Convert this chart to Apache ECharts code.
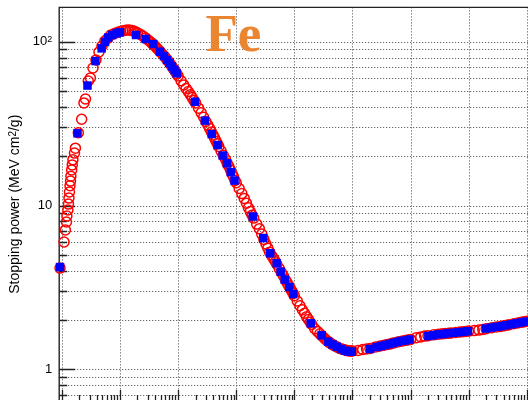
<!DOCTYPE html>
<html>
<head>
<meta charset="utf-8">
<script src="https://cdn.jsdelivr.net/npm/echarts@6/dist/echarts.min.js"></script>
<style>
  html, body { margin: 0; padding: 0; background: #fff; }
  #chart { width: 528px; height: 400px; }
</style>
</head>
<body>
<div id="chart"></div>
<script>
// Stopping power of Fe versus energy (MeV): reference table (open red circles)
const redEnergy = [
  0.00093, 0.00109, 0.00115, 0.0012, 0.00122, 0.00127, 0.0013, 0.001325, 0.00135, 0.00138,
  0.00141, 0.00143, 0.001475, 0.00151, 0.00155, 0.00165, 0.00171, 0.00192, 0.00219, 0.0024,
  0.00255, 0.00285, 0.0031, 0.00343, 0.00386, 0.00435, 0.0049, 0.0055, 0.0062, 0.007, 0.0079, 0.0089,
  0.01, 0.0125, 0.015, 0.0175, 0.02, 0.025, 0.03, 0.035, 0.04, 0.045, 0.05, 0.06, 0.07, 0.08, 0.09,
  0.1, 0.125, 0.15, 0.175, 0.2, 0.25, 0.3, 0.35, 0.4, 0.45, 0.5, 0.6, 0.7, 0.8, 0.9,
  1, 1.25, 1.5, 1.75, 2, 2.5, 3, 3.5, 4, 4.5, 5, 6, 7, 8, 9,
  10, 12.5, 15, 17.5, 20, 25, 30, 35, 40, 45, 50, 60, 70, 80, 90,
  100, 125, 150, 175, 200, 250, 300, 350, 400, 450, 500, 600, 700, 800, 900,
  1000, 1250, 1500, 1750, 2000, 2500, 3000, 3500, 4000, 4500, 5000, 6000, 7000, 8000, 9000,
  10000, 12500, 15000, 17500, 20000, 25000, 30000, 35000, 40000, 45000, 50000, 60000, 70000, 80000, 90000,
  100000, 125000,
  // intermediate entries
  0.01125, 0.01375, 0.01625, 0.01875, 0.0225, 0.0275, 0.0325, 0.0375, 0.0425, 0.0475, 0.055, 0.065, 0.075, 0.085, 0.095,
  0.1125, 0.1375, 0.1625, 0.1875, 0.225, 0.275, 0.325, 0.375, 0.425, 0.475, 0.55, 0.65, 0.75, 0.85, 0.95,
  1.125, 1.375, 1.625, 1.875, 2.25, 2.75, 3.25, 3.75, 4.25, 4.75, 5.5, 6.5, 7.5, 8.5, 9.5,
  11.25, 13.75, 16.25, 18.75, 22.5, 27.5, 32.5, 37.5, 42.5, 47.5, 55, 65, 75, 85, 95
];
const redStopping = [
  4.15, 5.99, 7.09, 7.93, 8.63, 9.39, 10.2, 11.1, 12.1, 13.2,
  14.1, 15.1, 16.5, 17.7, 19.0, 20.9, 22.4, 27.8, 33.6, 42.3,
  44.7, 57.6, 60.0, 69.1, 77.3, 86.5, 94.1, 101, 105, 110, 112, 114,
  115.4, 117.4, 117.6, 115.7, 113.3, 108.1, 102.8, 98.3, 94.1, 89.9, 86.3, 80.3, 74.8, 69.8, 65.7,
  61.8, 54.5, 49.6, 45.6, 42.3, 36.8, 32.6, 29.5, 26.9, 24.7, 22.95, 20.25, 18.07, 16.4, 14.95,
  13.76, 11.82, 10.34, 9.18, 8.38, 7.22, 6.21, 5.49, 4.99, 4.67, 4.38, 3.9, 3.53, 3.24, 3.01,
  2.814, 2.442, 2.2, 2.017, 1.877, 1.704, 1.597, 1.516, 1.459, 1.419, 1.39, 1.345, 1.321, 1.304, 1.293,
  1.293, 1.304, 1.321, 1.332, 1.34, 1.37, 1.388, 1.403, 1.417, 1.429, 1.445, 1.468, 1.484, 1.499, 1.512,
  1.522, 1.557, 1.577, 1.595, 1.604, 1.624, 1.638, 1.647, 1.654, 1.661, 1.668, 1.68, 1.689, 1.696, 1.704,
  1.711, 1.723, 1.735, 1.75, 1.767, 1.795, 1.815, 1.825, 1.843, 1.858, 1.872, 1.898, 1.917, 1.936, 1.952,
  1.966, 1.983,
  116.6, 117.9, 116.9, 114.6, 110.8, 105.5, 100.6, 96.0, 91.9, 88.1, 83.2, 77.5, 72.4, 67.7, 63.6,
  57.7, 51.8, 47.5, 43.8, 39.3, 34.6, 31.0, 28.1, 25.8, 23.8, 21.5, 19.2, 17.3, 15.6, 14.25,
  12.7, 11.05, 9.69, 8.73, 7.7, 6.69, 5.82, 5.19, 4.83, 4.53, 4.12, 3.71, 3.38, 3.12, 2.91,
  2.608, 2.311, 2.097, 1.936, 1.769, 1.647, 1.553, 1.484, 1.437, 1.403, 1.364, 1.332, 1.311, 1.299, 1.293
];

// Calculated values (filled blue squares)
const blueEnergy = [
  0.00093, 0.00186, 0.00276, 0.00379, 0.00484, 0.00552, 0.00629, 0.00737, 0.00877, 0.01,
  0.0189, 0.0277, 0.0374, 0.0488, 0.0572, 0.0644, 0.0711, 0.0785, 0.0867, 0.0946,
  0.195, 0.29, 0.379, 0.479, 0.586, 0.694, 0.807, 0.935,
  1.93, 2.93, 3.86, 4.98, 5.83, 6.84, 8.17, 9.61,
  19.2, 29.6, 38.5, 45.4, 53.7, 63.7, 74.6, 85.7, 97.3,
  201, 262, 311, 364, 427, 500, 586, 686, 804, 961,
  2025, 2439, 3009, 3626, 4420, 5390, 6569, 8010, 9765,
  19930, 24290, 30210, 36110, 44020, 53690, 65430, 79780, 97270
];
const blueStopping = [
  4.21, 27.6, 54.0, 76.2, 91.1, 99.6, 106.1, 109.9, 112.5, 114.1,
  109.9, 103.9, 96.8, 86.9, 81.8, 77.3, 74.1, 70.6, 67.2, 64.1,
  43.0, 33.0, 27.3, 23.4, 20.2, 18.1, 16.0, 14.2,
  8.57, 6.33, 5.11, 4.44, 3.94, 3.53, 3.18, 2.88,
  1.909, 1.613, 1.474, 1.417, 1.374, 1.33, 1.299, 1.284, 1.281,
  1.33, 1.368, 1.388, 1.407, 1.427, 1.447, 1.468, 1.488, 1.499, 1.52,
  1.597, 1.613, 1.636, 1.643, 1.659, 1.671, 1.682, 1.694, 1.708,
  1.774, 1.797, 1.817, 1.833, 1.858, 1.882, 1.906, 1.933, 1.955
];

// Axis ranges and tick values
const xRange = [0.0009, 150000];
const yRange = [0.64, 162];
const xDecades = [0.001, 0.01, 0.1, 1, 10, 100, 1000, 10000, 100000];
const yDecades = [1, 10, 100];
const minorSteps = [2, 3, 4, 5, 6, 7, 8, 9];
const yMinorTicks = [0.7, 0.8, 0.9, 2, 3, 4, 5, 6, 7, 8, 9, 20, 30, 40, 50, 60, 70, 80, 90];

const xMinorTicks = [];
xDecades.forEach(d => minorSteps.forEach(k => {
  const v = d * k;
  if (v > xRange[0] && v < xRange[1]) xMinorTicks.push(v);
}));

const pairs = (xs, ys) => xs.map((x, i) => [x, ys[i]]);

const gridColor = '#444';
const frameColor = '#222';

function hGrid(params, api) {
  const cs = params.coordSys;
  const y = Math.round(api.coord([api.value(0), api.value(1)])[1]) + 0.5;
  return { type: 'line', silent: true,
    shape: { x1: cs.x, y1: y, x2: cs.x + cs.width, y2: y },
    style: { stroke: gridColor, lineWidth: 1, lineDash: [1, 2] } };
}
function vGrid(params, api) {
  const cs = params.coordSys;
  const x = Math.round(api.coord([api.value(0), api.value(1)])[0]) + 0.5;
  return { type: 'line', silent: true,
    shape: { x1: x, y1: cs.y, x2: x, y2: cs.y + cs.height },
    style: { stroke: gridColor, lineWidth: 1, lineDash: [1, 2] } };
}
function yTick(params, api) {
  const cs = params.coordSys;
  const y = Math.round(api.coord([api.value(0), api.value(1)])[1]) + 0.5;
  const len = api.value(2);
  return { type: 'line', silent: true,
    shape: { x1: cs.x, y1: y, x2: cs.x + len, y2: y },
    style: { stroke: frameColor, lineWidth: 1.3 } };
}
function xTick(params, api) {
  const cs = params.coordSys;
  const x = Math.round(api.coord([api.value(0), api.value(1)])[0]) + 0.5;
  const len = api.value(2);
  const yb = cs.y + cs.height;
  return { type: 'line', silent: true,
    shape: { x1: x, y1: yb, x2: x, y2: yb - len },
    style: { stroke: frameColor, lineWidth: 1.3 } };
}

const gridSeries = (name, data, fn) => ({
  name, type: 'custom', renderItem: fn, data, z: 1, silent: true, clip: true,
  animation: false, tooltip: { show: false }
});

const chart = echarts.init(document.getElementById('chart'), null, { renderer: 'canvas' });

chart.setOption({
  animation: false,
  backgroundColor: '#ffffff',
  grid: {
    left: 59.2, top: 7.4, width: 477.8, height: 393.65,
    outerBoundsMode: 'none', containLabel: false,
    show: true, borderColor: frameColor, borderWidth: 1.4, backgroundColor: 'transparent'
  },
  xAxis: {
    type: 'log', logBase: 10, min: xRange[0], max: xRange[1],
    axisLine: { show: false }, axisTick: { show: false },
    axisLabel: { show: false }, splitLine: { show: false }
  },
  yAxis: {
    type: 'log', logBase: 10, min: yRange[0], max: yRange[1],
    name: 'Stopping power (MeV cm{sup|2}/g)',
    nameLocation: 'middle', nameRotate: 90, nameGap: 35,
    nameTextStyle: {
      fontFamily: '"Liberation Sans", Arial, sans-serif', fontSize: 14, color: '#000',
      rich: { sup: { fontSize: 10, verticalAlign: 'top', lineHeight: 10,
        fontFamily: '"Liberation Sans", Arial, sans-serif', color: '#000' } }
    },
    axisLine: { show: false }, axisTick: { show: false }, splitLine: { show: false },
    axisLabel: {
      margin: 7, fontFamily: '"Liberation Sans", Arial, sans-serif', fontSize: 13, color: '#000',
      formatter: v => {
        const e = Math.round(Math.log10(v));
        if (Math.abs(Math.log10(v) - e) > 1e-6) return '';
        if (e === 0) return '1';
        if (e === 1) return '10';
        return '10{sup|' + e + '}';
      },
      rich: { sup: { fontSize: 9, verticalAlign: 'top', lineHeight: 9,
        fontFamily: '"Liberation Sans", Arial, sans-serif', color: '#000' } }
    }
  },
  graphic: [{
    type: 'text', x: 205.5, y: 37, z: 10,
    style: {
      text: 'Fe', fill: '#ea8532', verticalAlign: 'middle',
      font: 'bold 53px "Liberation Serif", "Times New Roman", serif'
    }
  }],
  series: [
    gridSeries('hgrid', yDecades.concat(yMinorTicks).map(v => [xRange[0], v]), hGrid),
    gridSeries('vgrid', xDecades.map(v => [v, yRange[0]]), vGrid),
    gridSeries('yticks', yDecades.map(v => [xRange[0], v, 16])
      .concat(yMinorTicks.map(v => [xRange[0], v, 8])), yTick),
    gridSeries('xticks', xDecades.map(v => [v, yRange[0], 11])
      .concat(xMinorTicks.map(v => [v, yRange[0], 6])), xTick),
    {
      name: 'table', type: 'scatter', z: 3, silent: true,
      data: pairs(redEnergy, redStopping),
      symbol: 'circle', symbolSize: 10,
      itemStyle: { color: 'rgba(255,255,255,0)', borderColor: '#ff0000', borderWidth: 1.5, opacity: 1 }
    },
    {
      name: 'calc', type: 'scatter', z: 4, silent: true,
      data: pairs(blueEnergy, blueStopping),
      symbol: 'rect', symbolSize: 8.5,
      itemStyle: { color: '#0000ff', opacity: 1 }
    }
  ]
});
</script>
</body>
</html>
